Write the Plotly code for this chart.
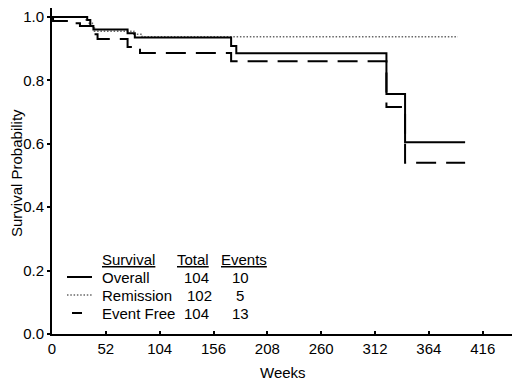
import plotly.graph_objects as go

# ---- data ----
overall_weeks = [0, 34, 37, 40, 73, 80, 173, 178, 323, 341, 399]
overall_surv = [1.0, 0.990, 0.971, 0.960, 0.948, 0.935, 0.908, 0.885, 0.757, 0.605, 0.605]

remission_weeks = [0, 33, 36, 39, 41, 79, 87, 392]
remission_surv = [1.0, 0.990, 0.980, 0.970, 0.955, 0.945, 0.937, 0.937]

eventfree_weeks = [0, 1, 22, 27, 41, 44, 73, 85, 173, 323, 341, 399]
eventfree_surv = [1.0, 0.987, 0.980, 0.971, 0.945, 0.930, 0.905, 0.886, 0.860, 0.716, 0.540, 0.540]

x_ticks = [0, 52, 104, 156, 208, 260, 312, 364, 416]
y_ticks = [0.0, 0.2, 0.4, 0.6, 0.8, 1.0]

legend_names = ["Overall", "Remission", "Event Free"]
legend_totals = ["104", "102", "104"]
legend_events = ["10", "5", "13"]

FONT = "Liberation Sans, Arial, sans-serif"
DOT_COLOR = "#666666"

fig = go.Figure()
fig.add_trace(go.Scatter(x=remission_weeks, y=remission_surv, mode="lines",
                         line=dict(shape="hv", color=DOT_COLOR, width=1.5, dash="1.5px,1.8px"),
                         showlegend=False, hoverinfo="skip"))
fig.add_trace(go.Scatter(x=overall_weeks, y=overall_surv, mode="lines",
                         line=dict(shape="hv", color="black", width=2),
                         showlegend=False, hoverinfo="skip"))
fig.add_trace(go.Scatter(x=eventfree_weeks, y=eventfree_surv, mode="lines",
                         line=dict(shape="hv", color="black", width=2, dash="20px,10px"),
                         showlegend=False, hoverinfo="skip"))

# The page body has an 8px margin, so the figure starts at page (8, 8).
# Plot area in page pixels: left 52, right 520, top 8, bottom 334
def px(xpix):
    return (xpix - 52) / 468.0

def py(ypix):
    return (334 - ypix) / 326.0

ann = []
shapes = []
ann.append(dict(x=px(100), y=py(259), xref="paper", yref="paper", text="<u>Survival</u>",
                xanchor="left", yanchor="middle", showarrow=False))
ann.append(dict(x=px(193), y=py(259), xref="paper", yref="paper", text="<u>Total</u>",
                xanchor="center", yanchor="middle", showarrow=False))
ann.append(dict(x=px(244), y=py(259), xref="paper", yref="paper", text="<u>Events</u>",
                xanchor="center", yanchor="middle", showarrow=False))
row_y = [277, 295, 313]
tot_x = [196, 199, 196]
for i, name in enumerate(legend_names):
    ann.append(dict(x=px(100), y=py(row_y[i]), xref="paper", yref="paper", text=name,
                    xanchor="left", yanchor="middle", showarrow=False))
    ann.append(dict(x=px(tot_x[i]), y=py(row_y[i]), xref="paper", yref="paper", text=legend_totals[i],
                    xanchor="center", yanchor="middle", showarrow=False))
    ann.append(dict(x=px(240), y=py(row_y[i]), xref="paper", yref="paper", text=legend_events[i],
                    xanchor="center", yanchor="middle", showarrow=False))

# axis titles
ann.append(dict(x=px(283), y=py(372), xref="paper", yref="paper", text="Weeks",
                xanchor="center", yanchor="middle", showarrow=False))
ann.append(dict(x=px(16), y=py(173), xref="paper", yref="paper", text="Survival Probability",
                textangle=-90, xanchor="center", yanchor="middle", showarrow=False))

shapes.append(dict(type="line", xref="paper", yref="paper", x0=px(67), x1=px(92),
                   y0=py(277), y1=py(277), line=dict(color="black", width=2)))
shapes.append(dict(type="line", xref="paper", yref="paper", x0=px(67), x1=px(92),
                   y0=py(295), y1=py(295), line=dict(color=DOT_COLOR, width=1.5, dash="1.5px,1.8px")))
shapes.append(dict(type="line", xref="paper", yref="paper", x0=px(72), x1=px(82),
                   y0=py(313), y1=py(313), line=dict(color="black", width=2)))

fig.update_layout(
    width=512, height=372,
    margin=dict(l=44, r=0, t=0, b=46, autoexpand=False),
    paper_bgcolor="white", plot_bgcolor="white",
    font=dict(family=FONT, size=15, color="black"),
    annotations=ann, shapes=shapes,
    xaxis=dict(range=[0, 452], tickvals=x_ticks, ticktext=[str(v) for v in x_ticks],
               automargin=False,
               showgrid=False, zeroline=False, showline=True, linecolor="black", linewidth=2,
               ticks="inside", ticklen=3, tickwidth=1.5, tickcolor="black"),
    yaxis=dict(range=[0, 1.028], tickvals=y_ticks, ticktext=["%.1f" % v for v in y_ticks],
               automargin=False,
               showgrid=False, zeroline=False, showline=True, linecolor="black", linewidth=2,
               ticks="outside", ticklen=3, tickwidth=1.5, tickcolor="black"),
)

fig.write_html("out.html")
